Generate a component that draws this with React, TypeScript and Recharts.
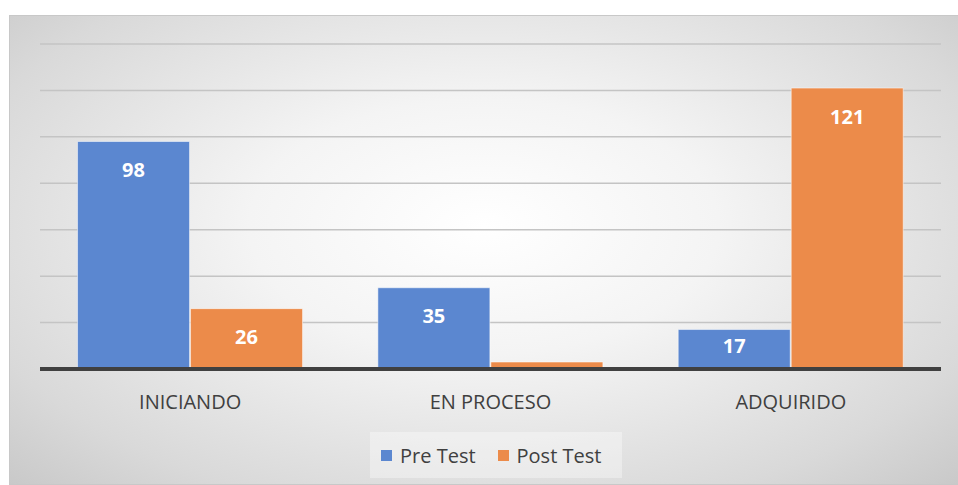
import { Bar, BarChart, CartesianGrid, LabelList, XAxis, YAxis } from "recharts";

const categories = ["INICIANDO", "EN PROCESO", "ADQUIRIDO"];
const preTest = [98, 35, 17];
const postTest = [26, 3, 121];
const yTicks = [0, 20, 40, 60, 80, 100, 120, 140];

const BLUE = "#5B87D0";
const ORANGE = "#EC8B4A";
const FONT = "'Open Sans', 'Noto Sans', sans-serif";

const data = categories.map((name, i) => ({ name, pre: preTest[i], post: postTest[i] }));

const legendItems = [
  { label: "Pre Test", color: BLUE },
  { label: "Post Test", color: ORANGE },
];

// hide labels for bars too short to fit text
const renderLabel = (props: any) => {
  const { x, y, width, height, value } = props;
  if (value < 10) return null;
  return (
    <text
      x={x + width / 2}
      y={y + Math.min(28, height - 24)}
      textAnchor="middle"
      dominantBaseline="central"
      fill="#ffffff"
      fontSize={20}
      fontWeight={700}
      fontFamily={FONT}
    >
      {value}
    </text>
  );
};

export default function App() {
  return (
    <div style={{ position: "absolute", left: 0, top: 0, width: 958, height: 485, background: "#fff" }}>
      <div
        style={{
          position: "absolute",
          left: 9,
          top: 15,
          width: 948,
          height: 468,
          border: "1px solid #c8c8c8",
          background: "radial-gradient(ellipse at 50% 45%, #ffffff 0%, #f4f4f4 35%, #d9d9d9 80%, #c9c9c9 100%)",
        }}
      />
      <div style={{ position: "absolute", left: 0, top: 0 }}>
        <BarChart
          width={958}
          height={485}
          data={data}
          margin={{ top: 44, right: 17, bottom: 86, left: 40 }}
          barCategoryGap="12.5%"
          barGap={1}
        >
          <CartesianGrid vertical={false} stroke="#c4c4c4" strokeWidth={1.5} />
          <YAxis hide domain={[0, 140]} ticks={yTicks} />
          <XAxis
            dataKey="name"
            height={30}
            axisLine={{ stroke: "#404040", strokeWidth: 4 }}
            tickLine={false}
            tickMargin={20}
            tick={{ fontSize: 20, fill: "#404040", fontFamily: FONT }}
          />
          <Bar dataKey="pre" fill={BLUE} stroke="#ffffff" strokeOpacity={0.5} isAnimationActive={false}>
            <LabelList dataKey="pre" content={renderLabel} />
          </Bar>
          <Bar dataKey="post" fill={ORANGE} stroke="#ffffff" strokeOpacity={0.5} isAnimationActive={false}>
            <LabelList dataKey="post" content={renderLabel} />
          </Bar>
        </BarChart>
      </div>
      <div
        style={{
          position: "absolute",
          left: 370,
          top: 432,
          width: 252,
          height: 46,
          background: "rgba(255,255,255,0.35)",
          display: "flex",
          alignItems: "center",
          paddingLeft: 11,
          boxSizing: "border-box",
          gap: 22,
          fontFamily: FONT,
          fontSize: 20,
          color: "#404040",
        }}
      >
        {legendItems.map((item) => (
          <div key={item.label} style={{ display: "flex", alignItems: "center", gap: 8 }}>
            <span style={{ width: 11, height: 11, background: item.color, display: "inline-block" }} />
            <span>{item.label}</span>
          </div>
        ))}
      </div>
    </div>
  );
}
